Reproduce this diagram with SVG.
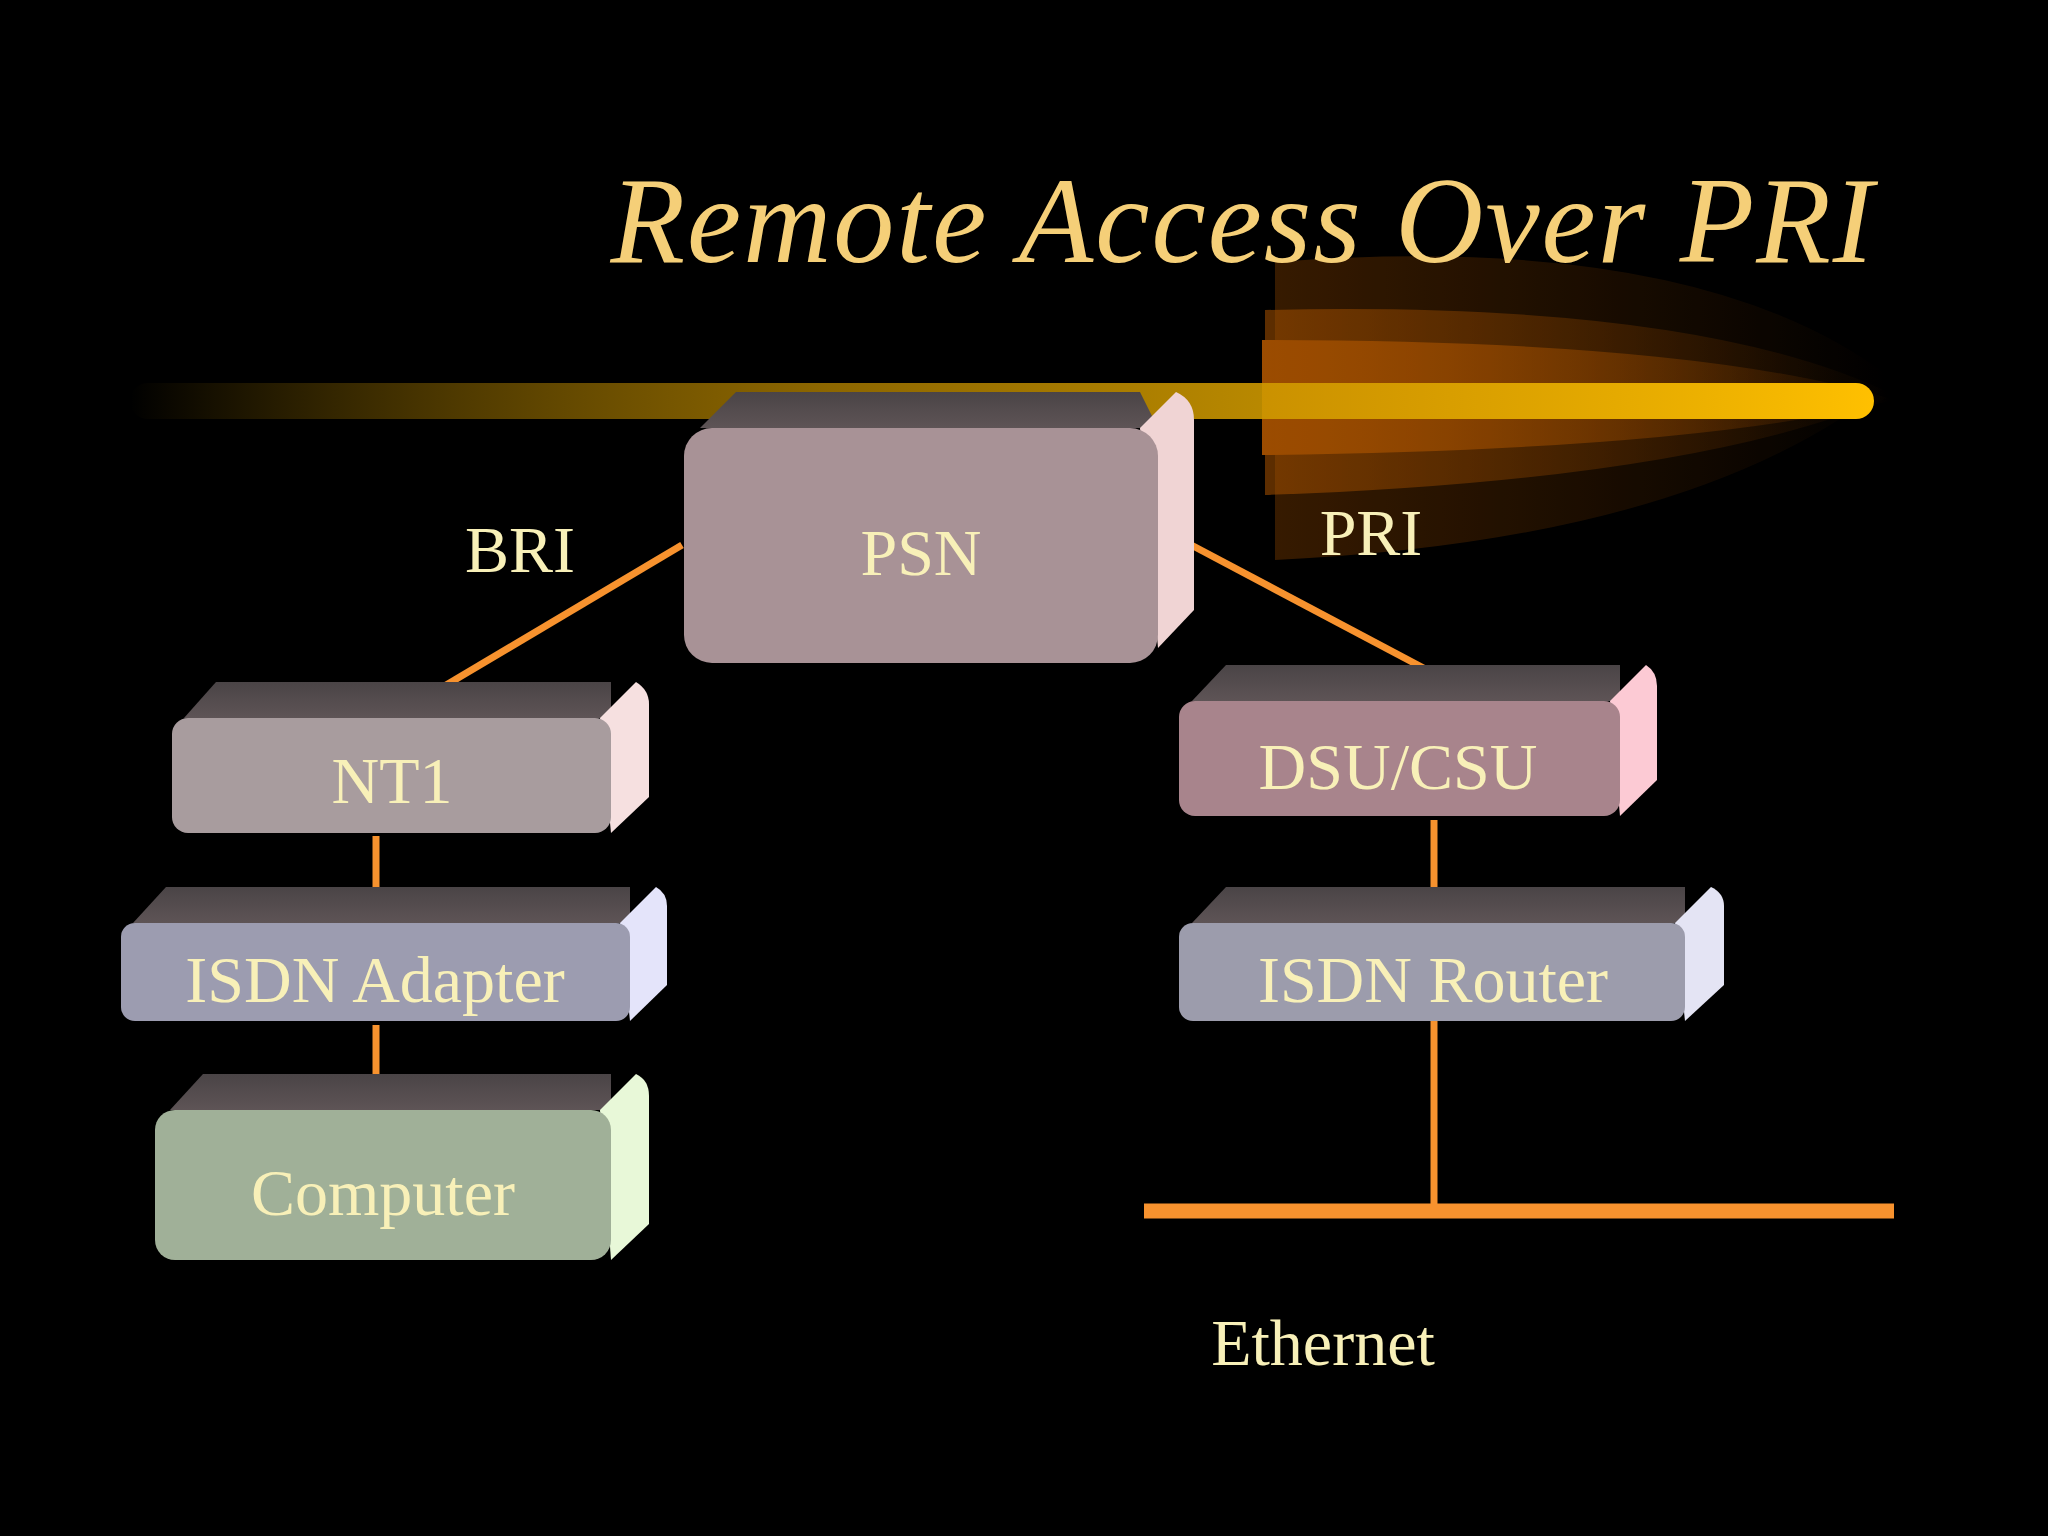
<svg xmlns="http://www.w3.org/2000/svg" width="2048" height="1536" viewBox="0 0 2048 1536">
<defs>
<linearGradient id="bar" x1="0" x2="1" y1="0" y2="0">
<stop offset="0" stop-color="#f0b000" stop-opacity="0"/>
<stop offset="0.4" stop-color="#b08000" stop-opacity="0.8"/>
<stop offset="1" stop-color="#ffc000"/>
</linearGradient>
<linearGradient id="glow" x1="0" x2="1" y1="0" y2="0">
<stop offset="0" stop-color="#b85a00"/>
<stop offset="1" stop-color="#b85a00" stop-opacity="0"/>
</linearGradient>
<linearGradient id="topf" x1="0" x2="0" y1="0" y2="1">
<stop offset="0" stop-color="#4a4446"/><stop offset="1" stop-color="#5e5456"/>
</linearGradient>
</defs>
<style>
.t{font-family:"Liberation Serif",serif;fill:#f8f0b8;text-anchor:middle;font-size:66px}
.c{stroke:#f7922e;stroke-width:7;fill:none}
.top{fill:url(#topf)}
</style>
<rect width="2048" height="1536" fill="#000"/>
<g id="glowbg" opacity="0.85">
<path d="M1275 262 Q1700 230 1894 380 Q1700 540 1275 560 Z" fill="url(#glow)" opacity="0.35"/>
<path d="M1265 310 Q1700 300 1894 395 Q1700 480 1265 495 Z" fill="url(#glow)" opacity="0.6"/>
<path d="M1262 340 Q1700 340 1894 400 Q1700 450 1262 455 Z" fill="url(#glow)"/>
</g>
<rect x="130" y="383" width="1744" height="36" rx="18" fill="url(#bar)"/>
<text x="1242" y="262" font-family="Liberation Serif,serif" font-style="italic" font-size="122" fill="#f5cf78" text-anchor="middle" textLength="1263">Remote Access Over PRI</text>
<g id="connectors">
<line class="c" x1="682" y1="545" x2="394" y2="716"/>
<line class="c" x1="1161" y1="529" x2="1482" y2="699"/>
<line class="c" x1="376" y1="836" x2="376" y2="923"/>
<line class="c" x1="376" y1="1025" x2="376" y2="1110"/>
<line class="c" x1="1434" y1="820" x2="1434" y2="923"/>
<line class="c" x1="1434" y1="1021" x2="1434" y2="1204"/>
<line x1="1144" y1="1211" x2="1894" y2="1211" stroke="#f7922e" stroke-width="15"/>
</g>
<g id="PSN">
<path class="top" d="M700 428 L736 392 L1140 392 L1158 428 Z"/>
<path d="M1140 428 L1176 392 Q1194 400 1194 420 L1194 610 L1158 648 Z" fill="#f0d4d4"/>
<rect x="684" y="428" width="474" height="235" rx="28" fill="#a89296"/>
<text class="t" x="921" y="575">PSN</text>
</g>
<g id="NT1">
<path class="top" d="M184 718 L216 682 L611 682 L611 718 Z"/>
<path d="M600 718 L636 682 Q649 690 649 704 L649 797 L611 833 Z" fill="#f6e0e0"/>
<rect x="172" y="718" width="439" height="115" rx="16" fill="#a89c9e"/>
<text class="t" x="392" y="803">NT1</text>
</g>
<g id="ISDNAdapter">
<path class="top" d="M133 923 L166 887 L630 887 L630 923 Z"/>
<path d="M620 923 L656 887 Q667 893 667 906 L667 985 L630 1021 Z" fill="#e4e4fa"/>
<rect x="121" y="923" width="509" height="98" rx="14" fill="#9c9cb0"/>
<text class="t" x="375" y="1002">ISDN Adapter</text>
</g>
<g id="Computer">
<path class="top" d="M170 1110 L203 1074 L611 1074 L611 1110 Z"/>
<path d="M600 1110 L636 1074 Q649 1080 649 1096 L649 1224 L611 1260 Z" fill="#e8f8d8"/>
<rect x="155" y="1110" width="456" height="150" rx="20" fill="#a0b098"/>
<text class="t" x="383" y="1215">Computer</text>
</g>
<g id="DSUCSU">
<path class="top" d="M1192 701 L1226 665 L1620 665 L1620 701 Z"/>
<path d="M1610 701 L1646 665 Q1657 672 1657 686 L1657 780 L1620 816 Z" fill="#fccad4"/>
<rect x="1179" y="701" width="441" height="115" rx="16" fill="#a8848c"/>
<text class="t" x="1398" y="789">DSU/CSU</text>
</g>
<g id="ISDNRouter">
<path class="top" d="M1192 923 L1226 887 L1685 887 L1685 923 Z"/>
<path d="M1675 923 L1711 887 Q1724 893 1724 906 L1724 985 L1685 1021 Z" fill="#e4e4f4"/>
<rect x="1179" y="923" width="506" height="98" rx="14" fill="#9c9cac"/>
<text class="t" x="1433" y="1002">ISDN Router</text>
</g>
<text class="t" x="520" y="572">BRI</text>
<text class="t" x="1371" y="555">PRI</text>
<text class="t" x="1323" y="1365">Ethernet</text>
</svg>
